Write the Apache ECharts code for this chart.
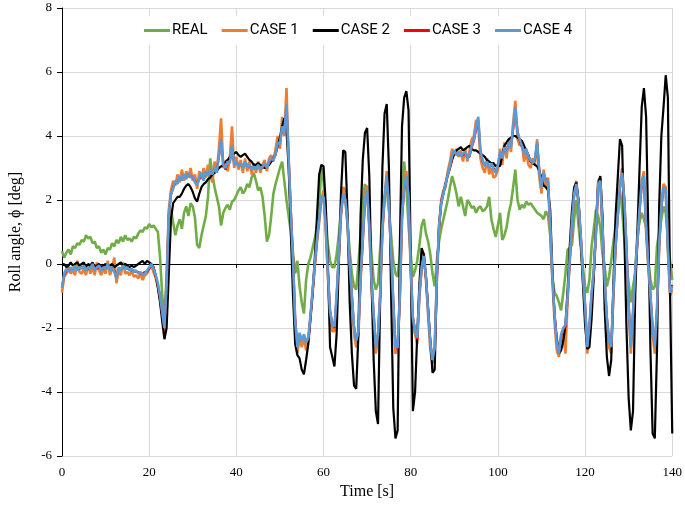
<!DOCTYPE html>
<html><head><meta charset="utf-8">
<script src="https://cdn.jsdelivr.net/npm/echarts@6/dist/echarts.min.js"></script>
<style>html,body{margin:0;padding:0;background:#fff}#c{width:685px;height:513px}</style>
</head><body><div id="c"></div>
<script>
const step = 0.5;
const seriesNames = ['REAL', 'CASE 1', 'CASE 2', 'CASE 3', 'CASE 4'];
const xTicks = [0, 20, 40, 60, 80, 100, 120, 140];
const yTicks = [-6, -4, -2, 0, 2, 4, 6, 8];

const real = [
0.4,0.2,0.35,0.45,0.3,0.55,0.5,0.65,0.6,0.75,
0.7,0.9,0.8,0.85,0.65,0.7,0.5,0.55,0.35,0.45,
0.3,0.5,0.45,0.65,0.55,0.75,0.65,0.85,0.7,0.9,
0.75,0.8,0.7,0.85,0.8,0.95,1.05,1.0,1.15,1.1,
1.25,1.15,1.2,1.1,1.0,0.2,-1.0,-1.65,-0.4,1.2,
1.7,1.3,0.9,1.2,1.4,1.1,1.6,1.8,1.5,1.9,
1.8,1.45,0.6,0.5,0.9,1.2,1.5,2.1,3.3,2.8,
2.4,2.1,1.8,1.2,1.6,1.75,1.85,1.7,1.95,2.0,
2.15,2.3,2.4,2.2,2.3,2.5,2.4,2.7,2.85,2.6,
2.3,2.4,2.1,1.5,0.7,0.9,1.5,2.2,2.5,2.75,
3.0,3.2,2.6,2.0,1.5,1.0,0.35,-0.3,0.1,-0.7,
-1.2,-1.55,-0.5,0.0,0.2,0.5,0.8,1.2,1.8,3.0,
2.6,1.5,0.6,0.1,-0.1,-0.1,0.3,0.9,1.7,2.4,
2.3,1.3,0.4,-0.3,-0.7,-0.8,0.0,0.95,2.0,2.5,
2.2,1.3,0.3,-0.5,-0.8,-0.6,0.5,1.5,2.1,2.3,
1.7,0.9,0.1,-0.3,-0.4,0.3,1.7,3.2,2.4,1.2,
0.3,-0.4,-0.2,0.1,0.6,1.2,1.4,0.95,0.7,0.3,
-0.3,-0.7,0.1,0.7,1.1,1.4,1.7,2.0,2.4,2.75,
2.5,2.2,1.8,2.1,1.8,1.5,2.0,1.9,1.75,1.8,
1.6,1.75,1.8,1.65,1.7,1.8,2.1,1.4,1.1,0.85,
1.2,1.6,0.75,0.9,1.15,1.6,1.9,2.4,2.95,2.0,
1.7,1.85,1.75,1.95,1.85,1.9,1.8,1.7,1.6,1.55,
1.5,1.4,1.65,1.5,0.9,-0.4,-0.9,-1.0,-1.2,-1.45,
-0.9,-0.3,0.45,0.5,0.6,1.4,2.0,1.2,0.55,-0.1,
-0.7,-0.9,-0.5,0.55,1.1,1.7,1.5,1.15,0.3,-0.1,
-0.7,-0.4,0.1,0.7,1.2,1.9,2.3,1.7,0.8,-0.1,
-0.6,-1.2,-0.7,-0.3,0.95,1.3,1.6,1.4,1.15,0.1,
-0.5,-0.8,-0.7,0.55,1.0,1.4,1.8,1.6,0.9,0.1,
-0.5];

const case1 = [
-0.9,-0.4,-0.3,-0.1,-0.3,-0.2,-0.35,0.1,-0.25,-0.3,
-0.15,-0.35,0.0,-0.3,-0.1,-0.35,0.05,-0.2,-0.35,-0.15,
-0.3,0.1,-0.35,-0.15,0.2,-0.6,-0.2,-0.35,0.05,-0.3,
-0.25,-0.35,-0.2,-0.4,-0.35,-0.45,-0.3,-0.5,-0.35,-0.3,
-0.15,-0.05,-0.25,-0.45,-0.7,-1.1,-1.6,-2.1,-0.5,1.7,
2.3,2.6,2.45,2.8,2.55,2.95,2.6,2.9,2.7,3.0,
2.6,2.8,2.35,2.9,2.65,3.0,2.7,3.1,2.8,2.55,
3.2,2.9,3.6,4.55,3.0,3.1,2.9,3.3,4.3,3.0,
3.35,2.95,3.25,2.85,3.3,2.9,3.2,2.8,3.15,2.85,
3.2,2.85,3.1,3.25,2.9,3.3,3.4,3.2,3.6,4.0,
3.6,4.6,4.0,5.5,3.2,1.5,0.0,-2.0,-2.8,-2.3,
-2.6,-2.3,-2.7,-2.4,-1.7,-0.9,-0.1,0.7,1.3,2.0,
2.3,1.1,-0.4,-1.7,-2.1,-2.1,-1.1,0.2,1.5,2.4,
2.1,1.2,-0.1,-1.1,-2.2,-2.6,-2.2,-0.5,0.7,2.1,
2.45,1.1,-0.6,-1.8,-2.8,-2.3,-1.0,1.0,2.0,2.9,
1.9,0.3,-1.3,-2.8,-2.7,-1.1,1.4,2.5,2.9,2.0,
-0.2,-1.9,-2.2,-2.5,-1.0,-0.2,0.35,-0.5,-1.6,-2.7,
-3.1,-2.7,-0.5,1.1,2.0,2.3,2.4,2.9,3.2,3.6,
3.4,3.6,3.35,3.55,3.2,3.6,3.2,3.55,3.9,4.0,
4.5,4.3,3.3,3.0,2.85,3.3,2.8,3.0,2.7,2.75,
2.95,3.6,3.1,3.8,3.3,3.9,3.5,4.4,5.1,3.9,
3.7,3.8,3.2,3.5,3.1,3.0,3.3,3.1,3.9,2.7,
2.2,2.95,2.45,2.7,1.0,-0.5,-1.8,-2.7,-2.9,-2.3,
-2.2,-2.8,-1.1,0.1,1.2,2.3,2.6,1.8,0.8,-0.4,
-1.4,-2.8,-2.1,-1.0,-0.3,1.0,2.6,2.7,1.0,-0.6,
-1.9,-2.6,-2.8,-1.0,0.5,1.6,2.5,3.0,1.9,0.4,
-1.4,-2.8,-1.6,-0.3,0.6,1.8,2.6,2.9,1.0,-0.1,
-1.1,-2.2,-2.8,-1.5,0.5,1.9,2.5,2.4,0.4,-1.0,
-0.8];

const case2 = [
-0.05,0.0,-0.1,-0.05,0.05,-0.05,0.0,0.05,-0.05,0.0,
0.05,-0.1,0.0,-0.05,0.05,-0.1,-0.05,0.0,-0.1,-0.05,
0.0,-0.1,-0.05,0.0,-0.1,-0.05,0.0,0.05,-0.05,0.0,
-0.05,-0.1,-0.05,-0.1,-0.05,0.0,0.05,0.1,0.0,0.1,
0.05,0.0,-0.1,-0.35,-0.75,-1.2,-1.8,-2.35,-2.0,-0.3,
1.4,1.9,2.0,2.1,2.1,2.2,2.35,2.45,2.5,2.4,
2.25,2.05,1.95,2.2,2.4,2.5,2.55,2.65,2.7,2.8,
2.85,2.9,3.0,3.05,3.1,3.2,3.25,3.35,3.4,3.45,
3.5,3.4,3.35,3.4,3.45,3.35,3.25,3.2,3.1,3.1,
3.15,3.1,3.05,3.0,3.05,3.1,3.2,3.3,3.45,3.7,
3.95,4.3,4.55,4.2,3.0,1.0,-1.0,-2.5,-2.85,-2.95,
-3.3,-3.45,-3.0,-2.5,-1.7,-0.9,0.2,1.5,2.8,3.1,
3.05,1.9,0.0,-2.6,-2.9,-3.2,-2.2,0.0,2.2,3.55,
3.5,1.6,-1.2,-2.8,-3.8,-3.9,-2.2,1.5,3.25,4.1,
4.25,2.75,-0.5,-3.0,-4.6,-5.0,-1.0,3.0,4.7,5.0,
3.0,-0.9,-4.5,-5.45,-5.2,0.5,4.3,5.2,5.4,4.8,
0.3,-4.6,-4.0,-2.2,-0.6,0.5,0.3,-0.4,-1.4,-2.4,
-3.4,-3.3,-0.4,1.2,1.9,2.2,2.5,2.8,3.0,3.25,
3.45,3.55,3.6,3.65,3.55,3.6,3.65,3.7,3.6,3.55,
3.55,3.5,3.45,3.4,3.35,3.25,3.2,3.15,3.15,3.05,
3.1,3.05,3.4,3.7,3.8,3.9,3.95,4.0,4.0,3.95,
3.9,3.85,3.7,3.55,3.4,3.2,3.15,3.1,3.05,2.9,
2.7,2.45,2.4,2.3,1.7,-0.2,-1.6,-2.3,-2.8,-2.7,
-2.4,-1.9,-0.8,0.6,1.7,2.4,2.55,2.0,0.7,-0.6,
-1.9,-2.65,-2.6,-1.7,-0.4,1.2,2.5,2.75,1.5,-1.4,
-2.9,-3.5,-3.0,-0.6,1.5,2.7,3.9,3.7,1.0,-2.0,
-4.2,-5.2,-4.6,-1.0,1.0,3.0,4.9,5.5,4.6,1.1,
-2.7,-5.3,-5.45,-2.7,1.8,4.0,4.9,5.9,5.2,-0.9,
-5.3];

const case3 = [
-0.7,-0.35,-0.2,-0.2,-0.15,-0.15,-0.1,-0.15,-0.15,-0.1,
-0.1,-0.15,-0.15,-0.1,-0.05,-0.15,-0.15,-0.1,-0.15,-0.15,
-0.1,-0.05,-0.15,-0.15,-0.2,-0.4,-0.15,-0.15,-0.1,-0.1,
-0.15,-0.15,-0.2,-0.2,-0.25,-0.25,-0.3,-0.3,-0.25,-0.25,
-0.15,-0.05,-0.1,-0.4,-0.65,-1.05,-1.55,-2.0,-0.65,1.5,
2.15,2.4,2.55,2.55,2.7,2.65,2.75,2.7,2.8,2.75,
2.7,2.6,2.5,2.65,2.8,2.65,2.85,2.8,2.9,2.85,
2.95,2.9,3.35,3.8,3.15,2.95,3.15,3.2,3.6,3.15,
3.15,3.1,3.1,3.05,3.15,3.1,3.05,3.0,3.0,3.0,
3.05,3.0,3.0,3.1,3.05,3.15,3.25,3.3,3.4,3.75,
3.8,4.2,4.15,4.9,3.35,1.7,0.2,-1.7,-2.55,-2.2,
-2.35,-2.25,-2.4,-2.35,-1.65,-0.85,-0.05,0.75,1.45,2.05,
2.05,1.25,-0.25,-1.45,-1.85,-2.0,-1.05,0.25,1.55,2.15,
2.05,1.35,0.05,-0.95,-1.95,-2.35,-2.15,-0.45,0.75,1.95,
2.25,1.25,-0.45,-1.55,-2.55,-2.25,-0.95,1.05,2.05,2.7,
1.85,0.45,-1.15,-2.55,-2.65,-1.05,1.45,2.35,2.7,2.15,
-0.05,-1.65,-2.05,-2.35,-0.95,-0.15,0.2,-0.45,-1.45,-2.45,
-2.95,-2.65,-0.45,1.15,1.95,2.25,2.55,2.75,3.0,3.35,
3.5,3.45,3.45,3.4,3.4,3.45,3.35,3.35,3.65,3.85,
4.2,4.5,3.55,3.2,3.1,3.15,3.05,3.1,3.0,2.9,
3.05,3.45,3.35,3.6,3.55,3.75,3.7,4.2,4.8,4.15,
3.85,3.65,3.5,3.55,3.4,3.2,3.2,3.25,3.75,2.95,
2.45,2.8,2.65,2.55,1.25,-0.35,-1.55,-2.45,-2.75,-2.25,
-2.05,-1.95,-1.05,0.15,1.25,2.15,2.45,1.95,0.95,-0.25,
-1.25,-2.55,-1.95,-0.95,-0.25,0.95,2.45,2.55,1.2,-0.45,
-1.65,-2.35,-2.55,-0.95,0.55,1.45,2.35,2.8,2.05,0.55,
-1.25,-2.55,-1.55,-0.25,0.65,1.65,2.45,2.7,1.2,0.05,
-0.95,-1.95,-2.55,-1.45,0.55,1.75,2.35,2.3,0.55,-0.85,
-0.65];

const case4 = [
-0.75,-0.3,-0.15,-0.25,-0.1,-0.2,-0.05,-0.2,-0.1,-0.15,
-0.05,-0.2,-0.1,-0.15,0.0,-0.2,-0.1,-0.05,-0.2,-0.1,
-0.15,0.0,-0.2,-0.1,-0.25,-0.45,-0.1,-0.2,-0.05,-0.15,
-0.1,-0.2,-0.15,-0.25,-0.2,-0.3,-0.25,-0.35,-0.3,-0.2,
-0.1,0.0,-0.15,-0.35,-0.6,-1.0,-1.5,-2.0,-0.6,1.6,
2.2,2.35,2.6,2.5,2.75,2.6,2.8,2.65,2.85,2.7,
2.75,2.55,2.45,2.7,2.85,2.6,2.9,2.75,2.95,2.8,
3.0,2.85,3.4,3.9,3.1,3.0,3.2,3.15,3.7,3.1,
3.2,3.05,3.15,3.0,3.2,3.05,3.1,2.95,3.05,2.95,
3.1,2.95,3.05,3.15,3.0,3.2,3.3,3.25,3.45,3.8,
3.75,4.3,4.1,5.0,3.3,1.6,0.1,-1.8,-2.6,-2.15,
-2.4,-2.2,-2.45,-2.3,-1.6,-0.8,0.0,0.8,1.4,2.1,
2.1,1.2,-0.3,-1.5,-1.9,-1.95,-1.0,0.3,1.6,2.2,
2.0,1.3,0.0,-1.0,-2.0,-2.4,-2.1,-0.4,0.8,2.0,
2.3,1.2,-0.5,-1.6,-2.6,-2.2,-0.9,1.1,2.1,2.75,
1.8,0.4,-1.2,-2.6,-2.6,-1.0,1.5,2.4,2.75,2.1,
-0.1,-1.7,-2.1,-2.3,-0.9,-0.1,0.25,-0.4,-1.5,-2.5,
-3.0,-2.6,-0.4,1.2,1.9,2.2,2.5,2.8,3.05,3.4,
3.55,3.4,3.5,3.35,3.45,3.5,3.3,3.4,3.7,3.9,
4.3,4.6,3.5,3.25,3.05,3.2,3.0,3.15,2.95,2.85,
3.1,3.5,3.3,3.65,3.5,3.8,3.65,4.3,4.9,4.1,
3.9,3.7,3.45,3.6,3.35,3.25,3.15,3.3,3.8,2.9,
2.4,2.85,2.6,2.6,1.2,-0.4,-1.6,-2.5,-2.8,-2.2,
-2.0,-1.9,-1.0,0.2,1.3,2.2,2.5,1.9,0.9,-0.3,
-1.3,-2.6,-1.9,-0.9,-0.2,1.0,2.5,2.6,1.15,-0.5,
-1.7,-2.4,-2.6,-0.9,0.6,1.5,2.4,2.85,2.0,0.5,
-1.3,-2.6,-1.5,-0.2,0.7,1.7,2.5,2.75,1.15,0.0,
-1.0,-2.0,-2.6,-1.4,0.6,1.8,2.4,2.3,0.5,-0.9,
-0.7];

const colors = ['#70AD47', '#ED7D31', '#000000', '#FF0000', '#5B9BD5'];
const widths = [2.6, 2.6, 2.2, 2.2, 2.6];
const allData = [real, case1, case2, case3, case4];

function pairs(arr) { return arr.map((v, i) => [i * step, v]); }

const serif = 'Liberation Serif';
const chart = echarts.init(document.getElementById('c'), null, { renderer: 'canvas' });
chart.setOption({
  animation: false,
  backgroundColor: '#ffffff',
  grid: { left: 61, right: 11, top: 8, bottom: 57, containLabel: false },
  legend: {
    top: 16, left: 136,
    data: seriesNames,
    icon: 'path://M0,0 H26 V3 H0 Z',
    itemWidth: 26, itemHeight: 3, itemGap: 14,
    padding: [7, 8],
    backgroundColor: '#ffffff',
    textStyle: { fontFamily: 'Roboto', fontSize: 15, color: '#000', padding: [0, 0, 0, -3] }
  },
  xAxis: [{
    type: 'value', min: 0, max: 140, interval: 20,
    position: 'bottom',
    name: 'Time [s]', nameLocation: 'middle', nameGap: 28,
    nameTextStyle: { fontFamily: serif, fontSize: 16, color: '#000' },
    axisLine: { show: false, onZero: false },
    axisTick: { show: false },
    axisLabel: { fontFamily: serif, fontSize: 13, color: '#000', margin: 10 },
    splitLine: { show: true, lineStyle: { color: '#d9d9d9', width: 1 } }
  }, {
    type: 'value', min: 0, max: 140, interval: 20,
    position: 'bottom',
    axisLine: { show: true, onZero: true, lineStyle: { color: '#000', width: 1 } },
    axisTick: { show: true, length: 4, lineStyle: { color: '#000' } },
    axisLabel: { show: false },
    splitLine: { show: false }
  }],
  yAxis: {
    type: 'value', min: -6, max: 8, interval: 2,
    name: 'Roll angle, \u03D5 [deg]', nameLocation: 'middle', nameGap: 38,
    nameTextStyle: { fontFamily: serif, fontSize: 16, color: '#000' },
    axisLine: { show: true, lineStyle: { color: '#000', width: 1 } },
    axisTick: { show: true, length: 5, lineStyle: { color: '#000' } },
    axisLabel: { fontFamily: serif, fontSize: 13, color: '#000', margin: 10 },
    splitLine: { show: true, lineStyle: { color: '#d9d9d9', width: 1 } }
  },
  series: seriesNames.map((n, k) => ({
    name: n, type: 'line', xAxisIndex: 0,
    data: pairs(allData[k]),
    showSymbol: false, symbol: 'none',
    lineStyle: { color: colors[k], width: widths[k] },
    itemStyle: { color: colors[k] },
    z: 2 + k
  }))
});
</script></body></html>
